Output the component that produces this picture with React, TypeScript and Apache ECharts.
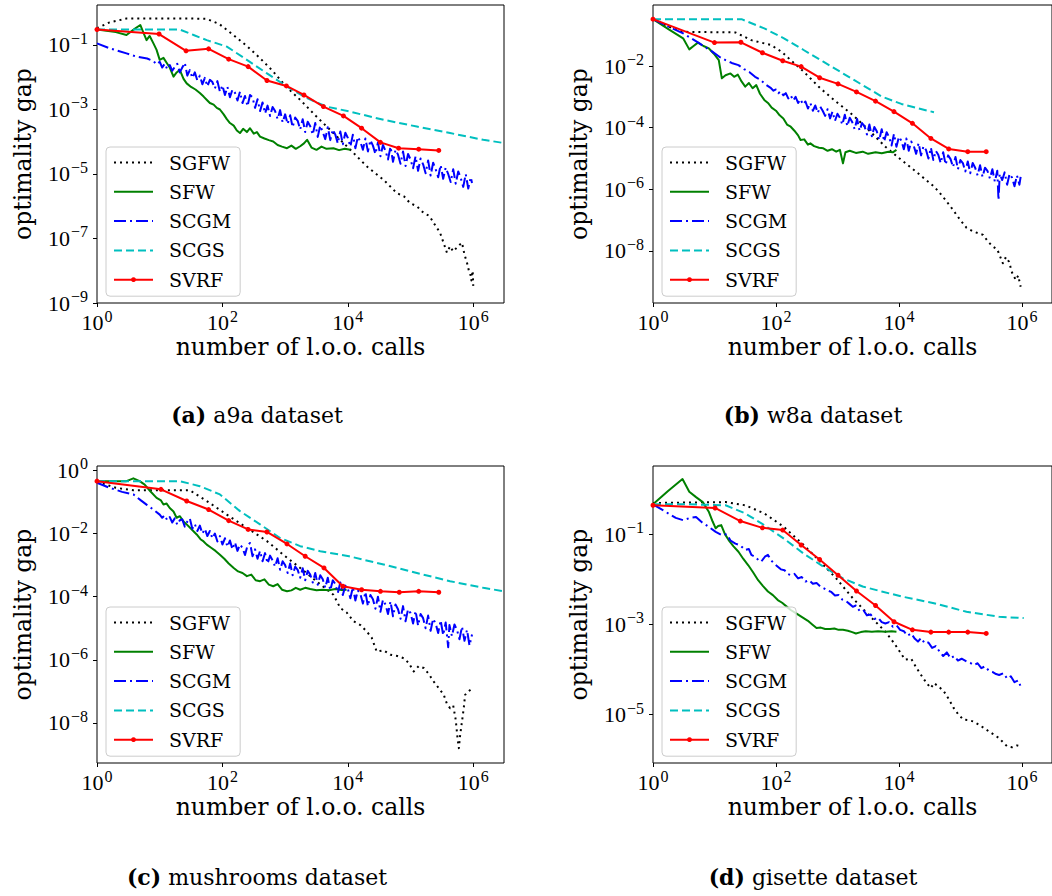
import React, { useEffect, useRef } from 'react';
import * as echarts from 'echarts';

type Pt = [number, number];

// All points are [log10(number of l.o.o. calls), log10(optimality gap)]
const NAMES = ['SGFW', 'SFW', 'SCGM', 'SCGS', 'SVRF'];
const X_TICKS = [0, 2, 4, 6];
const A_Y_TICKS = [-9, -7, -5, -3, -1];
const B_Y_TICKS = [-8, -6, -4, -2];
const C_Y_TICKS = [-8, -6, -4, -2, 0];
const D_Y_TICKS = [-5, -3, -1];
const CAPTIONS = [
  ['(a)', 'a9a dataset'],
  ['(b)', 'w8a dataset'],
  ['(c)', 'mushrooms dataset'],
  ['(d)', 'gisette dataset'],
];

// ---------- (a) a9a ----------
const A_SGFW: Pt[] = [[0,-0.48],[0.2,-0.3],[0.47,-0.18],[1.0,-0.18],[1.5,-0.18],[1.75,-0.19],[1.95,-0.35],[2.18,-0.7],[2.4,-1.05],[2.6,-1.41],[2.8,-1.8],[2.97,-2.19],[3.1,-2.45],[3.24,-2.7],[3.5,-3.22],[3.77,-3.73],[4.04,-4.25],[4.3,-4.76],[4.57,-5.18],[4.78,-5.59],[4.9,-5.7],[4.99,-5.9],[5.1,-6.0],[5.21,-6.21],[5.3,-6.3],[5.37,-6.52],[5.47,-6.82],[5.52,-7.1],[5.58,-7.44],[5.63,-7.24],[5.68,-7.4],[5.73,-7.3],[5.78,-7.2],[5.82,-7.13],[5.86,-7.5],[5.9,-7.75],[5.93,-8.0],[5.95,-8.06],[5.97,-8.3],[5.99,-8.0],[6.0,-8.47]];
const A_SFW: Pt[] = [[0,-0.52],[0.3,-0.6],[0.47,-0.69],[0.6,-0.5],[0.69,-0.38],[0.74,-0.62],[0.79,-0.85],[0.84,-0.72],[0.9,-0.95],[0.95,-1.15],[1.0,-1.46],[1.06,-1.4],[1.11,-1.55],[1.16,-1.7],[1.22,-1.98],[1.27,-1.85],[1.32,-1.77],[1.38,-2.05],[1.43,-2.19],[1.5,-2.3],[1.57,-2.38],[1.64,-2.49],[1.7,-2.6],[1.76,-2.72],[1.8,-2.8],[1.86,-2.85],[1.91,-2.95],[1.96,-3.0],[2.02,-3.15],[2.07,-3.3],[2.12,-3.42],[2.18,-3.5],[2.23,-3.65],[2.28,-3.73],[2.33,-3.6],[2.39,-3.7],[2.44,-3.58],[2.5,-3.75],[2.55,-3.7],[2.6,-3.84],[2.67,-3.9],[2.74,-3.95],[2.81,-3.99],[2.88,-4.1],[2.95,-4.15],[3.03,-4.2],[3.1,-4.12],[3.17,-4.22],[3.24,-4.14],[3.3,-4.05],[3.35,-3.94],[3.42,-4.18],[3.5,-4.25],[3.58,-4.15],[3.66,-4.22],[3.77,-4.2],[3.86,-4.26],[3.95,-4.22],[4.04,-4.25]];
const A_SCGM: Pt[] = [[0,-0.95],[0.2,-1.1],[0.47,-1.26],[0.63,-1.36],[0.8,-1.42],[0.9,-1.5],[0.95,-1.6],
  [1.0,-1.52],[1.04,-1.7],[1.08,-1.58],[1.12,-1.75],[1.16,-1.62],[1.2,-1.8],[1.24,-1.68],[1.28,-1.58],[1.32,-1.85],[1.36,-1.7],[1.4,-1.55],[1.44,-1.95],[1.48,-1.78],[1.52,-2.02],[1.56,-1.85],[1.6,-2.1],[1.64,-1.95],[1.68,-2.22],[1.72,-2.02],[1.76,-2.28],[1.8,-2.08],[1.84,-2.15],[1.88,-2.35],[1.92,-2.12],[1.96,-2.45],
  [2.0,-2.25],[2.04,-2.55],[2.08,-2.3],[2.12,-2.62],[2.16,-2.38],[2.2,-2.48],[2.24,-2.72],[2.28,-2.45],[2.32,-2.8],[2.36,-2.58],[2.4,-2.9],[2.44,-2.55],[2.48,-2.62],[2.52,-2.95],[2.56,-2.68],[2.6,-3.05],[2.64,-2.78],[2.68,-3.12],[2.72,-2.88],[2.76,-3.2],[2.8,-2.92],[2.84,-3.05],[2.88,-3.3],[2.92,-3.02],[2.96,-3.4],
  [3.0,-3.15],[3.04,-3.45],[3.08,-3.18],[3.12,-3.55],[3.16,-3.25],[3.2,-3.35],[3.24,-3.62],[3.28,-3.3],[3.32,-3.7],[3.36,-3.38],[3.4,-3.52],[3.44,-3.78],[3.48,-3.42],[3.52,-3.85],[3.56,-3.5],[3.6,-3.7],[3.64,-3.92],[3.68,-3.55],[3.72,-3.95],[3.76,-3.62],[3.8,-3.78],[3.84,-4.05],[3.88,-3.68],[3.92,-4.08],[3.96,-3.72],
  [4.0,-3.88],[4.04,-4.15],[4.08,-3.78],[4.12,-4.2],[4.16,-3.85],[4.2,-4.0],[4.24,-4.25],[4.28,-3.9],[4.32,-4.3],[4.36,-3.95],[4.4,-4.12],[4.44,-4.38],[4.48,-4.02],[4.52,-4.45],[4.56,-4.1],[4.6,-4.28],[4.64,-4.55],[4.68,-4.15],[4.72,-4.62],[4.76,-4.25],[4.8,-4.4],[4.84,-4.68],[4.88,-4.3],[4.92,-4.75],[4.96,-4.38],
  [5.0,-4.55],[5.04,-4.82],[5.08,-4.45],[5.12,-4.9],[5.16,-4.52],[5.2,-4.7],[5.24,-4.98],[5.28,-4.58],[5.32,-5.05],[5.36,-4.65],[5.4,-4.85],[5.44,-5.1],[5.48,-4.72],[5.52,-5.15],[5.56,-4.8],[5.6,-5.0],[5.64,-5.25],[5.68,-4.85],[5.72,-5.3],[5.76,-4.92],[5.8,-5.12],[5.84,-5.4],[5.88,-5.0],[5.92,-5.45],[5.96,-5.1],[5.98,-5.28]];
const A_SCGS: Pt[] = [[0,-0.52],[0.5,-0.52],[1.0,-0.52],[1.32,-0.52],[1.54,-0.69],[1.75,-0.85],[2.07,-1.05],[2.39,-1.46],[2.71,-1.88],[3.03,-2.29],[3.35,-2.65],[3.66,-2.91],[4.02,-3.06],[4.57,-3.32],[5.1,-3.53],[5.63,-3.73],[6.16,-3.94],[6.49,-4.04]];
const A_SVRF: Pt[] = [[0,-0.52],[0.99,-0.66],[1.42,-1.18],[1.78,-1.12],[2.1,-1.44],[2.41,-1.67],[2.71,-2.1],[3.02,-2.27],[3.3,-2.55],[3.61,-2.91],[3.93,-3.2],[4.22,-3.58],[4.52,-4.02],[4.81,-4.2],[5.13,-4.23],[5.45,-4.27]];

// ---------- (b) w8a ----------
const B_SGFW: Pt[] = [[0,-0.48],[0.25,-0.72],[0.49,-0.89],[0.9,-0.9],[1.34,-0.91],[1.6,-1.16],[1.92,-1.32],[2.1,-1.55],[2.24,-1.81],[2.45,-2.18],[2.72,-2.72],[2.98,-3.16],[3.25,-3.59],[3.51,-4.08],[3.78,-4.62],[4.04,-5.05],[4.31,-5.48],[4.57,-5.91],[4.7,-6.2],[4.84,-6.56],[5.0,-7.0],[5.1,-7.25],[5.21,-7.37],[5.37,-7.48],[5.45,-7.7],[5.53,-7.86],[5.6,-7.95],[5.69,-8.4],[5.74,-8.2],[5.79,-8.35],[5.84,-8.7],[5.9,-8.94],[5.94,-8.8],[5.98,-9.16]];
const B_SFW: Pt[] = [[0,-0.48],[0.25,-0.8],[0.49,-1.1],[0.59,-1.46],[0.66,-1.35],[0.73,-1.24],[0.82,-1.35],[0.91,-1.43],[0.99,-1.6],[1.07,-1.81],[1.12,-2.4],[1.18,-2.3],[1.26,-2.24],[1.32,-2.35],[1.38,-2.28],[1.44,-2.5],[1.5,-2.67],[1.56,-2.55],[1.62,-2.72],[1.68,-2.62],[1.74,-2.9],[1.81,-3.1],[1.87,-3.2],[1.93,-3.35],[2.0,-3.45],[2.06,-3.6],[2.12,-3.7],[2.18,-3.9],[2.24,-3.97],[2.3,-4.1],[2.36,-4.25],[2.4,-4.4],[2.46,-4.38],[2.52,-4.55],[2.56,-4.51],[2.62,-4.6],[2.7,-4.65],[2.77,-4.67],[2.84,-4.75],[2.91,-4.7],[2.98,-4.78],[3.04,-4.72],[3.09,-5.16],[3.13,-4.8],[3.2,-4.75],[3.3,-4.82],[3.41,-4.78],[3.5,-4.85],[3.62,-4.8],[3.72,-4.83],[3.83,-4.78],[3.9,-4.8],[3.96,-4.72]];
const B_SCGM: Pt[] = [[0,-0.48],[0.25,-0.72],[0.49,-0.94],[0.62,-1.1],[0.75,-1.26],[0.86,-1.4],[0.97,-1.54],[1.08,-1.7],[1.18,-1.81],[1.28,-1.9],[1.39,-1.97],[1.48,-2.1],[1.57,-2.2],[1.66,-2.35],[1.75,-2.45],[1.83,-2.6],
  [1.92,-2.72],[1.96,-2.8],[2.0,-2.76],[2.04,-2.88],[2.08,-2.82],[2.12,-2.95],[2.16,-2.88],[2.2,-3.05],[2.24,-2.95],[2.28,-3.12],[2.32,-3.0],[2.36,-3.2],[2.4,-3.08],[2.44,-3.25],[2.48,-3.15],[2.52,-3.38],[2.56,-3.2],[2.6,-3.45],[2.64,-3.28],[2.68,-3.52],[2.72,-3.32],[2.76,-3.45],[2.8,-3.62],[2.84,-3.4],[2.88,-3.7],[2.92,-3.48],[2.96,-3.78],
  [3.0,-3.55],[3.04,-3.68],[3.08,-3.9],[3.12,-3.58],[3.16,-3.95],[3.2,-3.68],[3.24,-3.82],[3.28,-4.05],[3.32,-3.72],[3.36,-4.1],[3.4,-3.85],[3.44,-3.95],[3.48,-4.22],[3.52,-3.9],[3.56,-4.28],[3.6,-3.98],[3.64,-4.12],[3.68,-4.4],[3.72,-4.05],[3.76,-4.45],[3.8,-4.15],[3.84,-4.3],[3.88,-4.58],[3.92,-4.2],[3.96,-4.62],
  [4.0,-4.3],[4.04,-4.42],[4.08,-4.7],[4.12,-4.35],[4.16,-4.75],[4.2,-4.45],[4.24,-4.58],[4.28,-4.85],[4.32,-4.5],[4.36,-4.9],[4.4,-4.6],[4.44,-4.72],[4.48,-5.0],[4.52,-4.65],[4.56,-5.05],[4.6,-4.75],[4.64,-4.88],[4.68,-5.15],[4.72,-4.8],[4.76,-5.2],[4.8,-4.9],[4.84,-5.02],[4.88,-5.28],[4.92,-4.95],[4.96,-5.35],
  [5.0,-5.05],[5.04,-5.15],[5.08,-5.42],[5.12,-5.1],[5.16,-5.48],[5.2,-5.15],[5.24,-5.3],[5.28,-5.55],[5.32,-5.22],[5.36,-5.6],[5.4,-5.3],[5.44,-5.4],[5.48,-5.65],[5.52,-5.35],[5.56,-5.75],[5.6,-5.4],[5.62,-6.35],[5.64,-5.5],[5.68,-5.7],[5.72,-5.45],[5.76,-5.85],[5.8,-5.5],[5.84,-5.62],[5.88,-5.9],[5.92,-5.55],[5.96,-5.85],[5.98,-5.6]];
const B_SCGS: Pt[] = [[0,-0.48],[0.7,-0.48],[1.44,-0.48],[1.81,-0.78],[2.13,-1.1],[2.45,-1.48],[2.77,-1.86],[3.09,-2.24],[3.41,-2.62],[3.72,-2.99],[4.04,-3.23],[4.31,-3.37],[4.57,-3.5]];
const B_SVRF: Pt[] = [[0,-0.48],[1.0,-1.24],[1.43,-1.23],[1.78,-1.57],[2.11,-1.83],[2.41,-2.02],[2.71,-2.38],[3.01,-2.58],[3.31,-2.84],[3.62,-3.14],[3.92,-3.48],[4.22,-3.86],[4.52,-4.35],[4.81,-4.69],[5.12,-4.78],[5.42,-4.78]];

// ---------- (c) mushrooms ----------
const C_SGFW: Pt[] = [[0,-0.36],[0.3,-0.55],[0.58,-0.63],[1.0,-0.63],[1.48,-0.63],[1.75,-0.97],[2.07,-1.4],[2.39,-1.82],[2.71,-2.24],[2.97,-2.67],[3.24,-3.09],[3.5,-3.51],[3.77,-3.94],[3.88,-4.36],[3.98,-4.5],[4.09,-4.78],[4.2,-4.9],[4.3,-5.1],[4.38,-5.3],[4.46,-5.74],[4.57,-5.7],[4.68,-5.84],[4.79,-5.88],[4.89,-5.95],[4.97,-6.1],[5.05,-6.37],[5.13,-6.2],[5.21,-6.26],[5.29,-6.45],[5.37,-6.69],[5.45,-6.9],[5.53,-7.11],[5.58,-7.4],[5.63,-7.53],[5.68,-7.45],[5.72,-7.9],[5.75,-8.5],[5.77,-8.8],[5.79,-8.4],[5.82,-7.96],[5.85,-7.5],[5.87,-7.11],[5.92,-7.0],[5.96,-6.95],[6.0,-6.9]];
const C_SFW: Pt[] = [[0,-0.34],[0.3,-0.34],[0.47,-0.34],[0.58,-0.25],[0.68,-0.34],[0.76,-0.45],[0.85,-0.66],[0.95,-0.87],[1.02,-0.95],[1.06,-1.08],[1.11,-1.05],[1.16,-1.19],[1.22,-1.3],[1.27,-1.5],[1.32,-1.45],[1.38,-1.62],[1.43,-1.71],[1.5,-1.85],[1.55,-1.95],[1.59,-2.03],[1.65,-2.18],[1.7,-2.25],[1.75,-2.35],[1.82,-2.45],[1.89,-2.55],[1.96,-2.67],[2.03,-2.8],[2.1,-2.95],[2.18,-3.09],[2.25,-3.2],[2.32,-3.25],[2.39,-3.35],[2.46,-3.3],[2.53,-3.48],[2.6,-3.51],[2.67,-3.45],[2.74,-3.62],[2.81,-3.67],[2.88,-3.6],[2.95,-3.78],[3.03,-3.83],[3.1,-3.8],[3.17,-3.72],[3.24,-3.78],[3.32,-3.72],[3.4,-3.76],[3.5,-3.8],[3.6,-3.78],[3.7,-3.8],[3.8,-3.76],[3.9,-3.79],[3.98,-3.78]];
const C_SCGM: Pt[] = [[0,-0.39],[0.2,-0.55],[0.4,-0.68],[0.58,-0.76],[0.7,-0.95],[0.8,-1.1],[0.9,-1.24],
  [1.0,-1.4],[1.04,-1.5],[1.08,-1.42],[1.12,-1.58],[1.16,-1.48],[1.2,-1.65],[1.24,-1.52],[1.28,-1.72],[1.32,-1.58],[1.36,-1.55],[1.4,-1.78],[1.44,-1.62],[1.48,-1.52],[1.52,-1.85],[1.56,-1.7],[1.6,-1.92],[1.64,-1.75],[1.68,-2.0],[1.72,-1.85],[1.76,-2.08],[1.8,-1.92],[1.84,-2.15],[1.88,-2.0],[1.92,-2.25],[1.96,-2.08],
  [2.0,-2.35],[2.04,-2.15],[2.08,-2.42],[2.12,-2.22],[2.16,-2.5],[2.2,-2.28],[2.24,-2.55],[2.28,-2.35],[2.32,-2.45],[2.36,-2.68],[2.4,-2.38],[2.44,-2.3],[2.48,-2.72],[2.52,-2.5],[2.56,-2.8],[2.6,-2.55],[2.64,-2.88],[2.68,-2.62],[2.72,-2.95],[2.76,-2.7],[2.8,-2.85],[2.84,-3.05],[2.88,-2.78],[2.92,-3.15],[2.96,-2.88],
  [3.0,-3.0],[3.04,-3.25],[3.08,-2.95],[3.12,-3.32],[3.16,-3.05],[3.2,-3.15],[3.24,-3.4],[3.28,-3.1],[3.32,-3.48],[3.36,-3.18],[3.4,-3.3],[3.44,-3.55],[3.48,-3.25],[3.52,-3.62],[3.56,-3.32],[3.6,-3.45],[3.64,-3.72],[3.68,-3.4],[3.72,-3.8],[3.76,-3.48],[3.8,-3.6],[3.84,-3.88],[3.88,-3.55],[3.92,-3.95],[3.96,-3.65],
  [4.0,-3.75],[4.04,-4.05],[4.08,-3.7],[4.12,-4.12],[4.16,-3.8],[4.2,-3.92],[4.24,-4.22],[4.28,-3.85],[4.32,-4.3],[4.36,-3.95],[4.4,-4.08],[4.44,-4.38],[4.48,-4.0],[4.52,-4.48],[4.56,-4.1],[4.6,-4.25],[4.64,-4.55],[4.68,-4.15],[4.72,-4.62],[4.76,-4.25],[4.8,-4.4],[4.84,-4.7],[4.88,-4.3],[4.92,-4.78],[4.96,-4.4],
  [5.0,-4.52],[5.04,-4.85],[5.08,-4.45],[5.12,-4.92],[5.16,-4.55],[5.2,-4.68],[5.24,-5.0],[5.28,-4.6],[5.32,-5.08],[5.36,-4.7],[5.4,-4.85],[5.44,-5.15],[5.48,-4.75],[5.52,-5.22],[5.56,-4.82],[5.6,-5.6],[5.62,-4.9],[5.66,-5.25],[5.7,-4.88],[5.74,-5.05],[5.78,-5.35],[5.82,-4.95],[5.86,-5.4],[5.9,-5.05],[5.94,-5.55],[5.98,-5.2]];
const C_SCGS: Pt[] = [[0,-0.34],[0.7,-0.34],[1.32,-0.34],[1.64,-0.5],[1.96,-0.76],[2.28,-1.29],[2.6,-1.71],[2.92,-2.14],[3.24,-2.4],[3.56,-2.56],[4.02,-2.72],[4.57,-2.98],[5.1,-3.25],[5.63,-3.51],[6.16,-3.72],[6.49,-3.83]];
const C_SVRF: Pt[] = [[0,-0.34],[1.02,-0.6],[1.43,-0.97],[1.78,-1.24],[2.1,-1.59],[2.41,-1.87],[2.71,-1.95],[3.03,-2.33],[3.32,-2.72],[3.62,-3.09],[3.92,-3.67],[4.22,-3.78],[4.52,-3.83],[4.82,-3.86],[5.13,-3.83],[5.45,-3.86]];

// ---------- (d) gisette ----------
const D_SGFW: Pt[] = [[0,-0.31],[0.5,-0.3],[1.18,-0.29],[1.5,-0.36],[1.81,-0.54],[2.13,-0.84],[2.45,-1.24],[2.72,-1.61],[2.98,-1.98],[3.25,-2.42],[3.51,-2.79],[3.78,-3.16],[3.94,-3.45],[4.1,-3.78],[4.2,-3.76],[4.28,-3.95],[4.36,-4.12],[4.45,-4.3],[4.52,-4.41],[4.57,-4.3],[4.65,-4.38],[4.73,-4.48],[4.81,-4.65],[4.89,-4.85],[4.97,-5.0],[5.05,-5.11],[5.13,-5.12],[5.21,-5.15],[5.3,-5.22],[5.42,-5.33],[5.52,-5.42],[5.63,-5.52],[5.7,-5.62],[5.76,-5.7],[5.84,-5.72],[5.92,-5.68],[5.98,-5.7]];
const D_SFW: Pt[] = [[0,-0.34],[0.24,-0.05],[0.48,0.22],[0.59,-0.06],[0.7,-0.18],[0.81,-0.29],[0.91,-0.51],[0.97,-0.72],[1.02,-0.87],[1.06,-0.82],[1.11,-0.8],[1.17,-1.0],[1.23,-1.13],[1.31,-1.27],[1.39,-1.39],[1.47,-1.55],[1.55,-1.69],[1.63,-1.85],[1.71,-2.02],[1.79,-2.15],[1.87,-2.27],[1.95,-2.35],[2.03,-2.46],[2.1,-2.52],[2.17,-2.6],[2.24,-2.68],[2.31,-2.74],[2.38,-2.8],[2.45,-2.86],[2.52,-2.92],[2.59,-3.0],[2.66,-3.08],[2.73,-3.07],[2.8,-3.1],[2.88,-3.1],[2.95,-3.09],[3.02,-3.12],[3.09,-3.12],[3.17,-3.14],[3.24,-3.17],[3.3,-3.2],[3.38,-3.17],[3.46,-3.15],[3.56,-3.16],[3.66,-3.15],[3.78,-3.16],[3.88,-3.15],[3.96,-3.16]];
const D_SCGM: Pt[] = [[0,-0.34],[0.2,-0.5],[0.37,-0.64],[0.49,-0.69],[0.6,-0.64],[0.7,-0.62],[0.8,-0.74],[0.91,-0.84],[1.02,-0.95],[1.12,-1.02],[1.2,-1.0],[1.26,-1.14],[1.34,-1.21],[1.42,-1.25],[1.5,-1.35],[1.56,-1.33],[1.6,-1.46],[1.66,-1.5],[1.72,-1.58],[1.76,-1.61],[1.82,-1.5],[1.87,-1.46],[1.92,-1.58],[1.97,-1.65],[2.03,-1.72],[2.08,-1.78],[2.14,-1.8],[2.19,-1.88],[2.24,-1.91],[2.3,-1.88],[2.36,-1.98],[2.42,-1.95],[2.48,-2.05],[2.54,-2.02],[2.6,-2.1],[2.66,-2.08],[2.72,-2.16],[2.78,-2.2],[2.84,-2.25],[2.9,-2.28],[2.96,-2.36],[3.02,-2.35],[3.08,-2.45],[3.14,-2.48],[3.2,-2.55],[3.25,-2.61],[3.3,-2.58],[3.36,-2.7],[3.42,-2.68],[3.48,-2.8],[3.54,-2.78],[3.6,-2.88],[3.66,-2.85],[3.72,-2.95],[3.78,-2.98],[3.84,-2.95],[3.9,-3.05],[3.96,-3.02],[4.02,-3.12],[4.08,-3.15],[4.14,-3.25],[4.2,-3.2],[4.26,-3.32],[4.31,-3.38],[4.36,-3.3],[4.42,-3.42],[4.48,-3.4],[4.54,-3.52],[4.6,-3.48],[4.66,-3.6],[4.72,-3.7],[4.78,-3.62],[4.84,-3.75],[4.9,-3.7],[4.96,-3.8],[5.02,-3.76],[5.1,-3.82],[5.16,-3.85],[5.22,-3.9],[5.28,-3.86],[5.34,-3.97],[5.4,-3.93],[5.46,-4.02],[5.52,-4.05],[5.58,-4.1],[5.63,-4.12],[5.7,-4.08],[5.76,-4.2],[5.82,-4.15],[5.88,-4.28],[5.94,-4.24],[5.98,-4.37]];
const D_SCGS: Pt[] = [[0,-0.34],[0.6,-0.34],[1.18,-0.36],[1.5,-0.54],[1.81,-0.8],[2.13,-1.1],[2.45,-1.43],[2.77,-1.72],[3.09,-1.98],[3.41,-2.16],[3.72,-2.27],[4.04,-2.38],[4.57,-2.53],[5.1,-2.72],[5.63,-2.83],[6.03,-2.86]];
const D_SVRF: Pt[] = [[0,-0.36],[1.01,-0.42],[1.42,-0.71],[1.78,-0.86],[2.11,-0.91],[2.41,-1.24],[2.71,-1.56],[3.01,-1.91],[3.31,-2.26],[3.62,-2.58],[3.92,-2.94],[4.22,-3.12],[4.52,-3.17],[4.81,-3.17],[5.12,-3.17],[5.42,-3.2]];

const PANEL_DATA = [
  [A_SGFW, A_SFW, A_SCGM, A_SCGS, A_SVRF],
  [B_SGFW, B_SFW, B_SCGM, B_SCGS, B_SVRF],
  [C_SGFW, C_SFW, C_SCGM, C_SCGS, C_SVRF],
  [D_SGFW, D_SFW, D_SCGM, D_SCGS, D_SVRF],
];
const PANEL_Y_TICKS = [A_Y_TICKS, B_Y_TICKS, C_Y_TICKS, D_Y_TICKS];

// layout (pixels) and axis extents (log10 units)
const LAYOUT = [
  { left: 97, top: 5, width: 407, height: 298, yMin: -9, yMax: 0.24, cx: 257, cy: 415 },
  { left: 653, top: 5, width: 408, height: 298, yMin: -9.69, yMax: -0.02, cx: 813, cy: 415 },
  { left: 97, top: 466, width: 407, height: 297, yMin: -9.27, yMax: 0.14, cx: 257, cy: 877 },
  { left: 653, top: 466, width: 408, height: 297, yMin: -6.07, yMax: 0.51, cx: 813, cy: 877 },
];
const X_MAX = 6.49;

const STYLES = [
  { color: '#000000', type: [2, 4] as any },
  { color: '#008000', type: 'solid' as any },
  { color: '#0000ff', type: [12, 4, 2, 4] as any },
  { color: '#00bfbf', type: [8, 4] as any },
  { color: '#ff0000', type: 'solid' as any },
];

const SERIF = 'DejaVu Serif';
const TICK_FONT = 'Liberation Serif';

function powLabel(v: number): string {
  const e = v < 0 ? '\u2212' + String(Math.abs(v)) : String(v);
  return '{b|10}{s|' + e + '}';
}
const RICH = {
  b: { fontFamily: TICK_FONT, fontSize: 22, lineHeight: 28, color: '#000' },
  s: { fontFamily: TICK_FONT, fontSize: 16, color: '#000', padding: [0, 0, 13, 1] },
};

export default function App() {
  const ref = useRef<HTMLDivElement>(null);
  useEffect(() => {
    if (!ref.current) return;
    const chart = echarts.init(ref.current, undefined, { renderer: 'svg' });
    const grids: any[] = [];
    const xAxes: any[] = [];
    const yAxes: any[] = [];
    const series: any[] = [];
    const legends: any[] = [];
    const graphics: any[] = [];
    LAYOUT.forEach((L, i) => {
      grids.push({ left: L.left, top: L.top, width: L.width, height: L.height, show: true, borderColor: '#000', borderWidth: 1, backgroundColor: 'transparent' });
      xAxes.push({
        gridIndex: i, type: 'value', min: 0, max: X_MAX,
        axisLine: { show: false, onZero: false }, splitLine: { show: false },
        axisTick: { show: true, length: 4, customValues: X_TICKS, lineStyle: { color: '#000', width: 1 } },
        axisLabel: { customValues: X_TICKS, formatter: powLabel, rich: RICH, margin: 5 },
        name: 'number of l.o.o. calls', nameLocation: 'middle', nameGap: 32,
        nameTextStyle: { fontFamily: SERIF, fontSize: 23.5, color: '#000' },
      });
      yAxes.push({
        gridIndex: i, type: 'value', min: L.yMin, max: L.yMax,
        axisLine: { show: false, onZero: false }, splitLine: { show: false },
        axisTick: { show: true, length: 4, customValues: PANEL_Y_TICKS[i], lineStyle: { color: '#000', width: 1 } },
        axisLabel: { customValues: PANEL_Y_TICKS[i], formatter: powLabel, rich: RICH, margin: 9 },
        name: 'optimality gap', nameLocation: 'middle', nameGap: 62, nameRotate: 90,
        nameTextStyle: { fontFamily: SERIF, fontSize: 23.5, color: '#000' },
      });
      PANEL_DATA[i].forEach((d, k) => {
        const st = STYLES[k];
        const isMarker = k === 4;
        series.push({
          type: 'line', name: NAMES[k], xAxisIndex: i, yAxisIndex: i, data: d,
          symbol: isMarker ? 'circle' : 'none', symbolSize: 5, showSymbol: isMarker,
          lineStyle: { color: st.color, width: 2, type: st.type, join: 'round' },
          itemStyle: { color: st.color },
          emphasis: { disabled: true }, silent: true, z: 2 + k * 0.1,
        });
      });
      legends.push({
        orient: 'vertical', left: L.left + 9, top: L.top + L.height - 156,
        data: NAMES.map((n, k) => (k === 4 ? { name: n } : { name: n, itemStyle: { opacity: 0 } })),
        selectedMode: false,
        itemWidth: 39, itemHeight: 6, itemGap: 10.3,
        padding: [6, 9, 7, 7],
        backgroundColor: 'rgba(255,255,255,0.8)', borderColor: '#cccccc', borderWidth: 1, borderRadius: 4,
        textStyle: { fontFamily: SERIF, fontSize: 19, lineHeight: 18, color: '#000', padding: [0, 0, 0, 11] },
      });
      graphics.push({
        type: 'text', x: L.cx, y: L.cy,
        style: {
          text: '{b|' + CAPTIONS[i][0] + '} ' + CAPTIONS[i][1],
          fontFamily: SERIF, fontSize: 22, fill: '#000', align: 'center', verticalAlign: 'middle',
          rich: { b: { fontFamily: SERIF, fontSize: 22, fontWeight: 'bold', fill: '#000' } },
        },
      });
    });
    chart.setOption({
      animation: false,
      backgroundColor: '#ffffff',
      grid: grids, xAxis: xAxes, yAxis: yAxes, series, legend: legends, graphic: graphics,
    });
    return () => chart.dispose();
  }, []);
  return <div ref={ref} style={{ position: 'fixed', left: 0, top: 0, width: 1052, height: 896, background: '#fff' }} />;
}
